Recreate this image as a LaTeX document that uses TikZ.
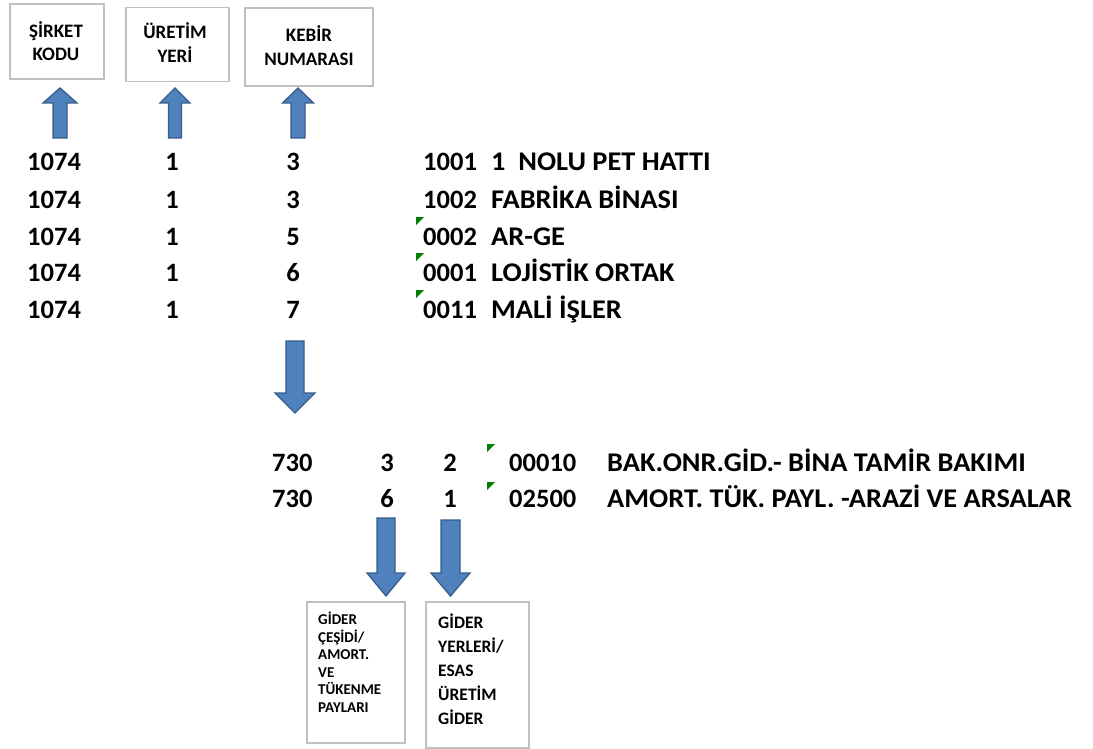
\documentclass[tikz,border=0pt]{standalone}
\usepackage{fontspec}
\setmainfont{Carlito}[BoldFont={Carlito Bold}]
\newfontfamily\boldcal{Carlito Bold}
\newfontfamily\boldcalwide{Carlito Bold}[FakeStretch=1.05]
\definecolor{arrowblue}{HTML}{4F81BD}
\definecolor{arrowedge}{HTML}{385D8A}
\definecolor{boxgray}{HTML}{C0C0C0}
\definecolor{markgreen}{HTML}{008000}
\tikzset{
  frame/.style={draw=boxgray, line width=1.6pt, fill=white},
  rowtxt/.style={font=\boldcal\fontsize{26.5}{30}\selectfont, inner sep=0pt},
  nametxt/.style={font=\boldcalwide\fontsize{27}{30}\selectfont, inner sep=0pt},
  toptxt/.style={font=\boldcal\fontsize{19}{21}\selectfont, inner sep=0pt},
  smalltxt/.style={font=\boldcal\fontsize{15}{16}\selectfont, inner sep=0pt, anchor=base west},
  midtxt/.style={font=\boldcal\fontsize{17.5}{20}\selectfont, inner sep=0pt, anchor=base west},
  blockarrow/.style={fill=arrowblue, draw=arrowedge, line width=1.3pt, line join=miter},
  marker/.style={fill=markgreen, draw=none}
}
% #1 x center, #2 tail y, #3 head base y, #4 tip y, #5 shaft half width, #6 head half width
\newcommand\myblockarrow[6]{%
  \draw[blockarrow] (#1-#5,#2) -- (#1+#5,#2) -- (#1+#5,#3) -- (#1+#6,#3) -- (#1,#4)
    -- (#1-#6,#3) -- (#1-#5,#3) -- cycle;}
\newcommand\mymarker[2]{\fill[marker] (#1,#2) -- (#1+8,#2) -- (#1,#2+8) -- cycle;}
\begin{document}
\begin{tikzpicture}[x=1pt,y=-1pt]
\useasboundingbox (0,0) rectangle (1093,749);
\fill[white] (0,0) rectangle (1093,749);

% top boxes
\node[frame, minimum width=94pt, minimum height=75pt] (boxA) at (57,41.5) {};
\node[frame, minimum width=103pt, minimum height=74pt] (boxB) at (177.5,44.5) {};
\node[frame, minimum width=128pt, minimum height=78pt] (boxC) at (309,47) {};
\node[toptxt, anchor=base] (tA1) at (56,38) {ŞİRKET};
\node[toptxt, anchor=base] (tA2) at (56,61) {KODU};
\node[toptxt, anchor=base] (tB1) at (175,39) {ÜRETİM};
\node[toptxt, anchor=base] (tB2) at (175,63) {YERİ};
\node[toptxt, anchor=base] (tC1) at (309,42) {KEBİR};
\node[toptxt, anchor=base] (tC2) at (309,66) {NUMARASI};

% up arrows
\myblockarrow{60}{138}{103}{88}{7}{17}
\myblockarrow{175}{138}{103}{88}{6.5}{15}
\myblockarrow{298}{138}{103}{88}{7}{15.5}

% upper rows
\foreach \y/\k/\code/\name [count=\i] in {171/3/1001/{1\ \ NOLU PET HATTI},208/3/1002/{FABRİKA BİNASI},245/5/0002/{AR-GE},281/6/0001/{LOJİSTİK ORTAK},318/7/0011/{MALİ İŞLER}}{
  \node[rowtxt, anchor=base west] (s\i) at (27,\y) {1074};
  \node[rowtxt, anchor=base] (u\i) at (172,\y) {1};
  \node[rowtxt, anchor=base] (k\i) at (293,\y) {\k};
  \node[rowtxt, anchor=base west] (c\i) at (423,\y) {\code};
  \node[nametxt, anchor=base west] (n\i) at (491,\y) {\name};
}
\mymarker{416}{217}
\mymarker{416}{253}
\mymarker{416}{290}

% big down arrow
\myblockarrow{295}{341}{393}{413}{9}{20}

% lower rows
\foreach \y/\a/\b/\code/\name [count=\i] in {471/3/2/00010/{BAK.ONR.GİD.- BİNA TAMİR BAKIMI},507/6/1/02500/{AMORT. TÜK. PAYL. -ARAZİ VE ARSALAR}}{
  \node[rowtxt, anchor=base west] (m\i) at (272,\y) {730};
  \node[rowtxt, anchor=base] (p\i) at (387,\y) {\a};
  \node[rowtxt, anchor=base] (q\i) at (450,\y) {\b};
  \node[rowtxt, anchor=base west] (r\i) at (509,\y) {\code};
  \node[nametxt, anchor=base west] (d\i) at (607,\y) {\name};
}
\mymarker{487}{444}
\mymarker{487}{482}

% small down arrows
\myblockarrow{386}{518}{573}{596}{9}{19}
\myblockarrow{450.5}{520}{573}{596}{9.5}{19.5}

% bottom boxes
\node[frame, minimum width=98pt, minimum height=141pt] (boxD) at (356,672.5) {};
\node[frame, minimum width=103pt, minimum height=146pt] (boxE) at (477.5,675) {};
\foreach \t [count=\i] in {GİDER,ÇEŞİDİ/,AMORT.,VE,TÜKENME,PAYLARI}{
  \node[smalltxt] (g\i) at (318,{624.5+17.5*(\i-1)}) {\t};
}
\foreach \t [count=\i] in {GİDER,YERLERİ/,ESAS,ÜRETİM,GİDER}{
  \node[midtxt] (h\i) at (438,{628+24*(\i-1)}) {\t};
}
\end{tikzpicture}
\end{document}
